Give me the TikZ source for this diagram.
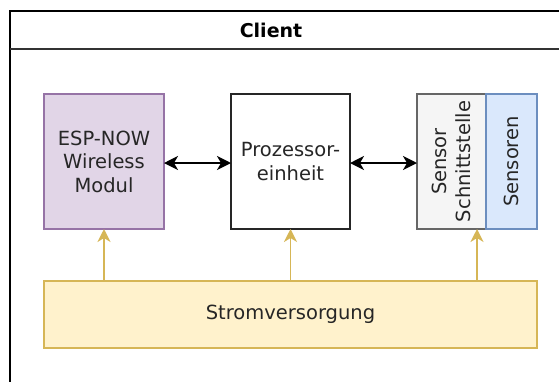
\documentclass[tikz,border=0pt]{standalone}
\usepackage{fontspec}
\setmainfont{DejaVu Sans}
\usetikzlibrary{arrows.meta}
\definecolor{espfill}{HTML}{E1D5E7}
\definecolor{espline}{HTML}{9673A6}
\definecolor{ifill}{HTML}{F5F5F5}
\definecolor{iline}{HTML}{666666}
\definecolor{sfill}{HTML}{DAE8FC}
\definecolor{sline}{HTML}{6C8EBF}
\definecolor{pfill}{HTML}{FFF2CC}
\definecolor{pline}{HTML}{D6B656}
\tikzset{
  blk/.style={rectangle, draw, line width=1.6pt, inner sep=0pt, outer sep=0pt,
    align=center, font=\fontsize{19.5}{23.5}\selectfont, text=black!85},
  dataflow/.style={line width=1.6pt, {Stealth[length=14pt,width=14pt,inset=4pt]}-{Stealth[length=14pt,width=14pt,inset=4pt]}},
  powerflow/.style={draw=pline, line width=1.6pt, -{Stealth[length=13pt,width=13pt,inset=4pt]}, color=pline}
}
\begin{document}
\begin{tikzpicture}[x=1pt,y=-1pt]
\useasboundingbox (0,0) rectangle (559,381);
\clip (0,0) rectangle (559,381);
% outer container with header bar
\draw[line width=1.8pt] (10,11) rectangle (620,440);
\draw[line width=1.5pt, black!80] (10,49) -- (620,49);
\node[font=\bfseries\fontsize{19}{23}\selectfont] (title) at (271,30) {Client};
% functional blocks
\node[blk, fill=espfill, draw=espline, minimum width=120pt, minimum height=135pt] (esp) at (104,161.5) {ESP-NOW\\Wireless\\Modul};
\node[blk, fill=white, draw=black!85, minimum width=119pt, minimum height=135pt] (cpu) at (290.5,161.5) {Prozessor-\\einheit};
\node[blk, fill=ifill, draw=iline, rotate=90, minimum width=135pt, minimum height=69pt] (iface) at (451.5,161.5) {Sensor\\Schnittstelle};
\node[blk, fill=sfill, draw=sline, rotate=90, minimum width=135pt, minimum height=51pt] (sens) at (511.5,161.5) {Sensoren};
\node[blk, fill=pfill, draw=pline, minimum width=493pt, minimum height=67pt] (pwr) at (290.5,314.5) {Stromversorgung};
% data links
\draw[dataflow] (esp.east |- 0,163) -- (cpu.west |- 0,163);
\draw[dataflow] (cpu.east |- 0,163) -- (iface.north |- 0,163);
% power feeds
\draw[powerflow] (pwr.north -| esp.center) -- (esp.south);
\draw[powerflow] (pwr.north -| cpu.center) -- (cpu.south);
\draw[powerflow] (pwr.north -| 477,0) -- (iface.west -| 477,0);
\end{tikzpicture}
\end{document}
